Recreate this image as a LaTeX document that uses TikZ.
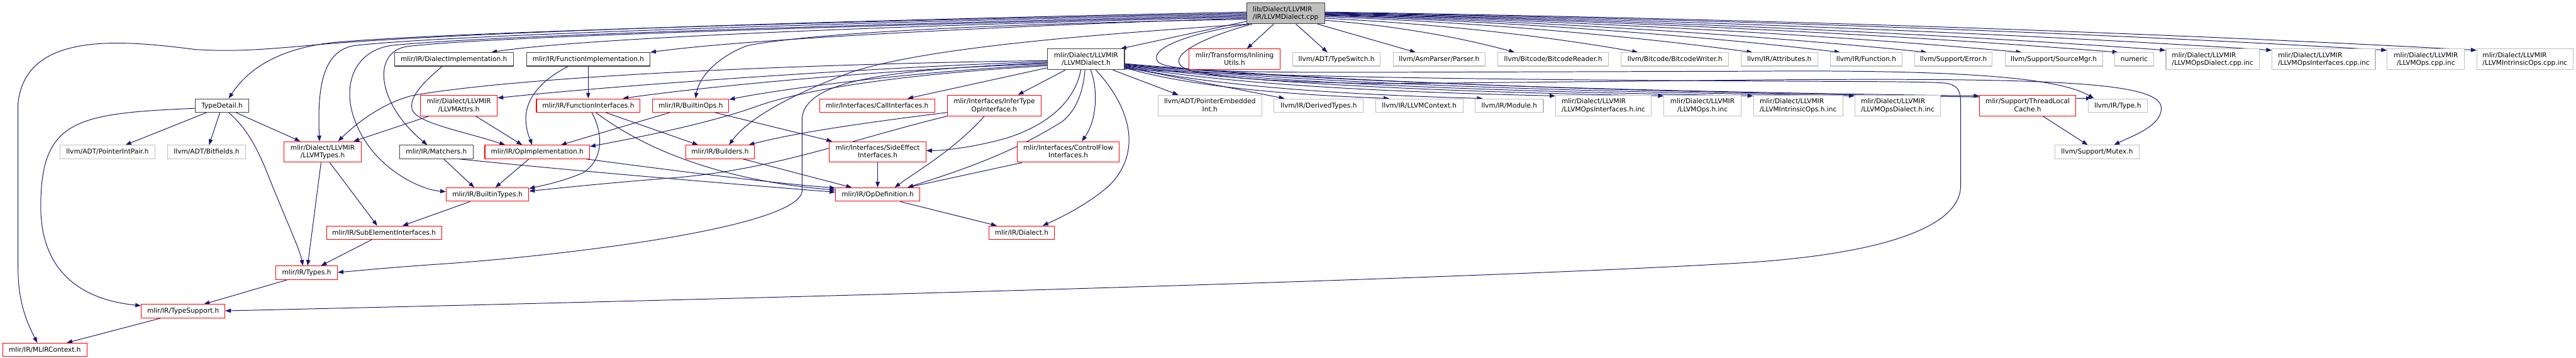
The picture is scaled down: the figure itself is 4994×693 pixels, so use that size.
\documentclass[tikz,border=0pt]{standalone}
\usepackage{fontspec}
\setmainfont{DejaVu Sans}
\usetikzlibrary{arrows.meta}
\definecolor{edgec}{HTML}{191970}
\definecolor{redc}{HTML}{FF0000}
\definecolor{grayc}{HTML}{BFBFBF}
\definecolor{blackc}{HTML}{404040}
\definecolor{topfill}{HTML}{BFBFBF}
\pgfdeclarelayer{bg}
\pgfsetlayers{bg,main}
\newcommand\sstrut{\vrule width0pt height11pt depth3pt}
\newcommand\twol[2]{{\setbox0=\hbox{\sstrut#1}\setbox2=\hbox{\sstrut#2}\ifdim\wd0>\wd2 \dimen0=\wd0 \else \dimen0=\wd2 \fi\vbox{\hbox to\dimen0{\box0\hfil}\hbox to\dimen0{\hfil\box2\hfil}}}}
\tikzset{
 nd/.style={draw, line width=1.3pt, inner sep=0pt, fill=white, font=\fontsize{12.9}{15}\selectfont, execute at begin node=\sstrut},
 rn/.style={nd, draw=redc},
 bn/.style={nd, draw=blackc},
 gn/.style={nd, draw=grayc},
 tn/.style={nd, draw=blackc, fill=topfill},
 ed/.style={draw=edgec, line width=1.2pt, -{Triangle[length=11pt,width=8pt]}},
}
\begin{document}
\begin{tikzpicture}[x=1pt,y=-1pt]
\useasboundingbox (0,0) rectangle (4994,693);
% top
\node[tn, minimum width=151pt, minimum height=40pt] (T) at (2492.5,26) {\twol{lib/Dialect/LLVMIR}{/IR/LLVMDialect.cpp}};
% row 1
\node[bn, minimum width=230pt, minimum height=26pt] (DI) at (880,115) {mlir/IR/DialectImplementation.h};
\node[bn, minimum width=239pt, minimum height=26pt] (FImp) at (1140.5,115) {mlir/IR/FunctionImplementation.h};
\node[bn, minimum width=149pt, minimum height=40pt] (D) at (2105.5,115) {\twol{mlir/Dialect/LLVMIR}{/LLVMDialect.h}};
\node[rn, minimum width=177pt, minimum height=40pt] (Inl) at (2393.5,115) {\twol{mlir/Transforms/Inlining}{Utils.h}};
\node[gn, minimum width=170pt, minimum height=26pt] (TSw) at (2591,115) {llvm/ADT/TypeSwitch.h};
\node[gn, minimum width=178pt, minimum height=26pt] (Pars) at (2790,115) {llvm/AsmParser/Parser.h};
\node[gn, minimum width=214pt, minimum height=26pt] (BcR) at (3011,115) {llvm/Bitcode/BitcodeReader.h};
\node[gn, minimum width=208pt, minimum height=26pt] (BcW) at (3247,115) {llvm/Bitcode/BitcodeWriter.h};
\node[gn, minimum width=149pt, minimum height=26pt] (Attr) at (3449.5,115) {llvm/IR/Attributes.h};
\node[gn, minimum width=138pt, minimum height=26pt] (Func) at (3618,115) {llvm/IR/Function.h};
\node[gn, minimum width=150pt, minimum height=26pt] (Err) at (3787,115) {llvm/Support/Error.h};
\node[gn, minimum width=189pt, minimum height=26pt] (SMgr) at (3981.5,115) {llvm/Support/SourceMgr.h};
\node[gn, minimum width=75pt, minimum height=26pt] (Num) at (4137.5,115) {numeric};
\node[gn, minimum width=181pt, minimum height=40pt] (ODc) at (4289.5,115) {\twol{mlir/Dialect/LLVMIR}{/LLVMOpsDialect.cpp.inc}};
\node[gn, minimum width=200pt, minimum height=40pt] (OIc) at (4505,115) {\twol{mlir/Dialect/LLVMIR}{/LLVMOpsInterfaces.cpp.inc}};
\node[gn, minimum width=150pt, minimum height=40pt] (OPc) at (4703,115) {\twol{mlir/Dialect/LLVMIR}{/LLVMOps.cpp.inc}};
\node[gn, minimum width=186pt, minimum height=40pt] (IOc) at (4895,115) {\twol{mlir/Dialect/LLVMIR}{/LLVMIntrinsicOps.cpp.inc}};
% row 2
\node[bn, minimum width=103pt, minimum height=26pt] (TD) at (430.5,204.5) {TypeDetail.h};
\node[rn, minimum width=149pt, minimum height=40pt] (Attrs) at (889.5,204.5) {\twol{mlir/Dialect/LLVMIR}{/LLVMAttrs.h}};
\node[rn, minimum width=201pt, minimum height=26pt] (FI) at (1140.5,204.5) {mlir/IR/FunctionInterfaces.h};
\node[rn, minimum width=148pt, minimum height=26pt] (BO) at (1339,204.5) {mlir/IR/BuiltinOps.h};
\node[rn, minimum width=223pt, minimum height=26pt] (CI) at (1700.5,204.5) {mlir/Interfaces/CallInterfaces.h};
\node[rn, minimum width=181pt, minimum height=40pt] (IT) at (1927.5,204.5) {\twol{mlir/Interfaces/InferType}{OpInterface.h}};
\node[gn, minimum width=201pt, minimum height=40pt] (PEI) at (2345.5,204.5) {\twol{llvm/ADT/PointerEmbedded}{Int.h}};
\node[gn, minimum width=173pt, minimum height=26pt] (DT) at (2556.5,204.5) {llvm/IR/DerivedTypes.h};
\node[gn, minimum width=169pt, minimum height=26pt] (Ctx) at (2751.5,204.5) {llvm/IR/LLVMContext.h};
\node[gn, minimum width=132pt, minimum height=26pt] (Mod) at (2926,204.5) {llvm/IR/Module.h};
\node[gn, minimum width=185pt, minimum height=40pt] (OIh) at (3108.5,204.5) {\twol{mlir/Dialect/LLVMIR}{/LLVMOpsInterfaces.h.inc}};
\node[gn, minimum width=149pt, minimum height=40pt] (OPh) at (3300.5,204.5) {\twol{mlir/Dialect/LLVMIR}{/LLVMOps.h.inc}};
\node[gn, minimum width=173pt, minimum height=40pt] (IOh) at (3486,204.5) {\twol{mlir/Dialect/LLVMIR}{/LLVMIntrinsicOps.h.inc}};
\node[gn, minimum width=166pt, minimum height=40pt] (ODh) at (3679,204.5) {\twol{mlir/Dialect/LLVMIR}{/LLVMOpsDialect.h.inc}};
\node[rn, minimum width=186pt, minimum height=40pt] (TLC) at (3931,204.5) {\twol{mlir/Support/ThreadLocal}{Cache.h}};
\node[gn, minimum width=115pt, minimum height=26pt] (Ty) at (4105.5,204.5) {llvm/IR/Type.h};
% row 3
\node[gn, minimum width=183pt, minimum height=26pt] (PIP) at (208.5,294.5) {llvm/ADT/PointerIntPair.h};
\node[gn, minimum width=151pt, minimum height=26pt] (BF) at (400.5,294.5) {llvm/ADT/Bitfields.h};
\node[rn, minimum width=149pt, minimum height=40pt] (LT) at (625.5,294.5) {\twol{mlir/Dialect/LLVMIR}{/LLVMTypes.h}};
\node[bn, minimum width=142pt, minimum height=26pt] (Mat) at (846,294.5) {mlir/IR/Matchers.h};
\node[rn, minimum width=203pt, minimum height=26pt] (OI) at (1041.5,294.5) {mlir/IR/OpImplementation.h};
\node[rn, minimum width=134pt, minimum height=26pt] (Bld) at (1396,294.5) {mlir/IR/Builders.h};
\node[rn, minimum width=187pt, minimum height=40pt] (SE) at (1701.5,294.5) {\twol{mlir/Interfaces/SideEffect}{Interfaces.h}};
\node[rn, minimum width=198pt, minimum height=40pt] (CF) at (2071,294.5) {\twol{mlir/Interfaces/ControlFlow}{Interfaces.h}};
\node[gn, minimum width=163pt, minimum height=26pt] (Mtx) at (4065.5,294.5) {llvm/Support/Mutex.h};
% rows 4-8
\node[rn, minimum width=160pt, minimum height=26pt] (BT) at (945,377) {mlir/IR/BuiltinTypes.h};
\node[rn, minimum width=163pt, minimum height=26pt] (OD) at (1701.5,377) {mlir/IR/OpDefinition.h};
\node[rn, minimum width=223pt, minimum height=26pt] (SEI) at (744.5,451) {mlir/IR/SubElementInterfaces.h};
\node[rn, minimum width=127pt, minimum height=26pt] (Dia) at (1980.5,451) {mlir/IR/Dialect.h};
\node[rn, minimum width=119pt, minimum height=26pt] (Tys) at (594.5,528.5) {mlir/IR/Types.h};
\node[rn, minimum width=162pt, minimum height=26pt] (TS) at (355,603) {mlir/IR/TypeSupport.h};
\node[rn, minimum width=164pt, minimum height=26pt] (Ctxm) at (87,678) {mlir/IR/MLIRContext.h};

\begin{pgfonlayer}{bg}
% T fan right
\draw[ed] ([xshift=53pt]T.south west) -- ([xshift=113pt]Inl.north west);
\draw[ed] ([xshift=96pt]T.south west) -- ([xshift=68pt]TSw.north west);
\draw[ed] ([xshift=138pt]T.south west) -- ([xshift=44pt]Pars.north west);
\draw[ed] ([yshift=-34pt]T.north east) .. controls (2697,49) and (2826,71) .. ([xshift=33pt]BcR.north west);
\draw[ed] ([yshift=-30pt]T.north east) .. controls (2781,46) and (2994,69) .. ([xshift=33pt]BcW.north west);
\draw[ed] ([yshift=-27pt]T.north east) .. controls (2859,43) and (3149,68) .. ([xshift=23pt]Attr.north west);
\draw[ed] ([yshift=-25pt]T.north east) .. controls (2918,42) and (3268,66) .. ([xshift=19pt]Func.north west);
\draw[ed] ([yshift=-24pt]T.north east) .. controls (2977,41) and (3386,66) .. ([xshift=24pt]Err.north west);
\draw[ed] ([yshift=-23pt]T.north east) .. controls (3041,40) and (3514,65) .. ([xshift=33pt]SMgr.north west);
\draw[ed] ([yshift=-22pt]T.north east) .. controls (3107,39) and (3645,65) .. ([xshift=7pt]Num.north west);
\draw[ed] ([yshift=-21pt]T.north east) .. controls (3139,38) and (3710,62) .. ([yshift=-3pt]ODc.north west);
\draw[ed] ([yshift=-20pt]T.north east) .. controls (3211,37) and (3854,62) .. ([yshift=-3pt]OIc.north west);
\draw[ed] ([yshift=-19pt]T.north east) .. controls (3289,36) and (4010,61) .. ([yshift=-3pt]OPc.north west);
\draw[ed] ([yshift=-18pt]T.north east) .. controls (3350,35) and (4132,61) .. ([yshift=-3pt]IOc.north west);
% T fan left
\draw[ed] ([yshift=-18pt]T.north west) .. controls (1800,36) and (900,60) .. (600,88) .. controls (500,97) and (450,100) .. (380,96) .. controls (250,80) and (50,55) .. (35,200) -- (35,520) .. controls (35,590) and (55,630) .. ([xshift=68pt]Ctxm.north west);
\draw[ed] ([yshift=-20pt]T.north west) .. controls (1800,38) and (900,60) .. (650,82) .. controls (520,95) and (470,150) .. ([xshift=65pt]TD.north west);
\draw[ed] ([yshift=-22pt]T.north west) .. controls (1800,40) and (900,65) .. (690,88) .. controls (625,96) and (615,170) .. ([xshift=69pt]LT.north west);
\draw[ed] ([yshift=-24pt]T.north west) .. controls (1800,44) and (950,68) .. (760,88) .. controls (670,100) and (650,200) .. (720,290) .. controls (760,340) and (820,368) .. ([yshift=-8pt]BT.north west);
\draw[ed] ([yshift=-26pt]T.north west) .. controls (1800,46) and (950,70) .. (790,90) .. controls (720,100) and (730,200) .. ([xshift=54pt]Mat.north west);
\draw[ed] ([yshift=-28pt]T.north west) .. controls (1900,45) and (1150,70) .. ([xshift=188pt]DI.north west);
\draw[ed] ([yshift=-30pt]T.north west) .. controls (2000,48) and (1450,75) .. (FImp.north east);
\draw[ed] ([yshift=-32pt]T.north west) .. controls (2000,45) and (1600,60) .. (1450,88) .. controls (1390,110) and (1355,150) .. ([xshift=84pt]BO.north west);
\draw[ed] ([yshift=-36pt]T.north west) -- ([xshift=-8pt]D.north east);
\draw[ed] ([xshift=3pt]T.south west) .. controls (2150,65) and (1800,90) .. (1650,140) .. controls (1530,185) and (1450,230) .. ([xshift=85pt]Bld.north west);
% T loops to the right
\draw[ed] ([xshift=5pt]T.south west) .. controls (2300,65) and (2225,95) .. (2245,120) .. controls (2265,138) and (2400,141) .. (2700,140) -- (3400,138) .. controls (3800,135) and (3990,150) .. ([xshift=12pt]Ty.north west);
\draw[ed] ([xshift=11pt]T.south west) .. controls (2340,70) and (2265,105) .. (2290,128) .. controls (2310,147) and (2450,160) .. (2700,162) -- (3400,155) .. controls (4000,150) and (4190,160) .. (4190,210) .. controls (4190,245) and (4130,265) .. ([xshift=115pt]Mtx.north west);
% D left
\draw[ed] ([yshift=-23pt]D.north west) .. controls (1500,125) and (1000,150) .. (800,185) .. controls (740,200) and (690,240) .. ([xshift=105pt]LT.north west);
\draw[ed] ([yshift=-25pt]D.north west) .. controls (1700,130) and (1200,165) .. ([yshift=-6pt]Attrs.north east);
\draw[ed] ([yshift=-27pt]D.north west) .. controls (1750,135) and (1560,150) .. (1555,230) -- (1555,370) .. controls (1550,440) and (1100,495) .. (850,512) .. controls (760,518) and (700,524) .. ([yshift=-13pt]Tys.north east);
\draw[ed] ([yshift=-29pt]D.north west) .. controls (1700,135) and (1350,170) .. ([xshift=168pt]FI.north west);
\draw[ed] ([yshift=-31pt]D.north west) .. controls (1750,140) and (1500,175) .. ([yshift=-2pt]BO.north east);
\draw[ed] ([yshift=-33pt]D.north west) .. controls (1850,138) and (1600,160) .. (1470,205) .. controls (1380,238) and (1230,268) .. ([yshift=-3pt]OI.north east);
\draw[ed] ([yshift=-37pt]D.north west) -- ([xshift=171pt]CI.north west);
% D bottom
\draw[ed] ([xshift=35pt]D.south west) -- ([xshift=137pt]IT.north west);
\draw[ed] ([xshift=65pt]D.south west) .. controls (2085,190) and (2040,240) .. (1950,268) .. controls (1890,285) and (1830,292) .. ([yshift=-18pt]SE.north east);
\draw[ed] ([xshift=73pt]D.south west) .. controls (2100,180) and (2085,215) .. (2060,235) .. controls (1950,305) and (1830,340) .. ([xshift=140pt]OD.north west);
\draw[ed] ([xshift=84pt]D.south west) .. controls (2128,170) and (2128,230) .. ([xshift=126pt]CF.north west);
\draw[ed] ([xshift=94pt]D.south west) .. controls (2185,200) and (2220,290) .. (2150,360) .. controls (2110,395) and (2060,420) .. ([xshift=105pt]Dia.north west);
\draw[ed] ([xshift=127pt]D.south west) -- ([xshift=40pt]PEI.north west);
% D right
\draw[ed] ([yshift=-36pt]D.north east) -- ([xshift=21pt]DT.north west);
\draw[ed] ([yshift=-37pt]D.north east) .. controls (2308,168) and (2488,183) .. ([xshift=27pt]Ctx.north west);
\draw[ed] ([yshift=-35pt]D.north east) .. controls (2354,167) and (2597,183) .. ([xshift=15pt]Mod.north west);
\draw[ed] ([yshift=-34pt]D.north east) .. controls (2389,164) and (2682,178) .. ([yshift=-2pt]OIh.north west);
\draw[ed] ([yshift=-33pt]D.north east) .. controls (2441,163) and (2808,178) .. ([yshift=-2pt]OPh.north west);
\draw[ed] ([yshift=-32pt]D.north east) .. controls (2485,163) and (2912,177) .. ([yshift=-2pt]IOh.north west);
\draw[ed] ([yshift=-31pt]D.north east) .. controls (2534,162) and (3030,177) .. ([yshift=-2pt]ODh.north west);
\draw[ed] ([yshift=-30pt]D.north east) .. controls (2594,162) and (3175,177) .. ([yshift=-2pt]TLC.north west);
\draw[ed] ([yshift=-29pt]D.north east) .. controls (2649,165) and (3306,182) .. ([xshift=8pt]Ty.north west);
\draw[ed] ([yshift=-39pt]D.north east) .. controls (2450,150) and (3000,155) .. (3400,157) .. controls (3600,158) and (3740,158) .. (3770,161) .. controls (3795,164) and (3801,175) .. (3801,200) -- (3801,360) .. controls (3801,440) and (3650,490) .. (3400,508) .. controls (2800,545) and (1200,585) .. ([yshift=-13pt]TS.north east);
% others
\draw[ed] ([xshift=22pt]TD.south west) -- ([xshift=127pt]PIP.north west);
\draw[ed] ([xshift=48pt]TD.south west) -- ([xshift=81pt]BF.north west);
\draw[ed] ([xshift=79pt]TD.south west) -- ([xshift=32pt]LT.north west);
\draw[ed] ([xshift=65pt]TD.south west) .. controls (480,250) and (500,290) .. (520,340) .. controls (560,440) and (580,480) .. ([xshift=53pt]Tys.north west);
\draw[ed] ([yshift=-19pt]TD.north west) .. controls (150,220) and (79,230) .. (79,400) .. controls (79,520) and (150,580) .. ([yshift=-3pt]TS.north west);
\draw[ed] ([xshift=89pt]LT.south west) -- ([xshift=99pt]SEI.north west);
\draw[ed] ([xshift=72pt]LT.south west) -- ([xshift=62pt]Tys.north west);
\draw[ed] ([xshift=88pt]SEI.south west) -- ([xshift=88pt]Tys.north west);
\draw[ed] ([xshift=23pt]Tys.south west) -- ([xshift=122pt]TS.north west);
\draw[ed] ([xshift=38pt]TS.south west) -- ([xshift=125pt]Ctxm.north west);
\draw[ed] ([xshift=47pt]BT.south west) -- ([xshift=148pt]SEI.north west);
\draw[ed] ([xshift=17pt]Attrs.south west) -- ([xshift=135pt]LT.north west);
\draw[ed] ([xshift=108pt]Attrs.south west) -- ([xshift=73pt]OI.north west);
\draw[ed] ([xshift=93pt]DI.south west) .. controls (820,160) and (790,190) .. (800,215) .. controls (815,240) and (900,255) .. ([xshift=40pt]OI.north west);
\draw[ed] ([xshift=81pt]FImp.south west) .. controls (1040,160) and (1015,200) .. (1020,240) .. controls (1022,260) and (1028,270) .. ([xshift=92pt]OI.north west);
\draw[ed] ([xshift=120pt]FImp.south west) -- ([xshift=101pt]FI.north west);
\draw[ed] ([xshift=108pt]FI.south west) .. controls (1170,260) and (1170,310) .. (1130,335) .. controls (1090,352) and (1050,360) .. ([yshift=-2pt]BT.north east);
\draw[ed] ([xshift=116pt]FI.south west) .. controls (1250,290) and (1400,350) .. ([yshift=-5pt]OD.north west);
\draw[ed] ([xshift=135pt]FI.south west) -- ([xshift=25pt]Bld.north west);
\draw[ed] ([xshift=34pt]BO.south west) -- ([xshift=148pt]OI.north west);
\draw[ed] ([xshift=122pt]BO.south west) -- ([xshift=6pt]SE.north west);
\draw[ed] ([xshift=86pt]Mat.south west) -- ([xshift=55pt]BT.north west);
\draw[ed] ([xshift=116pt]Mat.south west) .. controls (1100,330) and (1400,355) .. ([yshift=-9pt]OD.north west);
\draw[ed] ([xshift=86pt]OI.south west) -- ([xshift=96pt]BT.north west);
\draw[ed] ([xshift=197pt]OI.south west) .. controls (1300,330) and (1500,355) .. ([yshift=-1pt]OD.north west);
\draw[ed] ([xshift=112pt]Bld.south west) -- ([xshift=32pt]OD.north west);
\draw[ed] ([yshift=-34pt]IT.north west) .. controls (1700,235) and (1550,255) .. ([xshift=123pt]Bld.north west);
\draw[ed] (IT.south west) .. controls (1650,270) and (1500,330) .. (1300,345) .. controls (1150,357) and (1080,365) .. ([yshift=-7pt]BT.north east);
\draw[ed] ([xshift=72pt]IT.south west) .. controls (1850,290) and (1780,330) .. ([xshift=115pt]OD.north west);
\draw[ed] (SE.south) -- (OD.north);
\draw[ed] ([xshift=10pt]CF.south west) -- ([xshift=140pt]OD.north west);
\draw[ed] ([xshift=126pt]OD.south west) -- ([xshift=16pt]Dia.north west);
\draw[ed] ([xshift=123pt]TLC.south west) -- ([xshift=64pt]Mtx.north west);
\end{pgfonlayer}
\end{tikzpicture}
\end{document}
